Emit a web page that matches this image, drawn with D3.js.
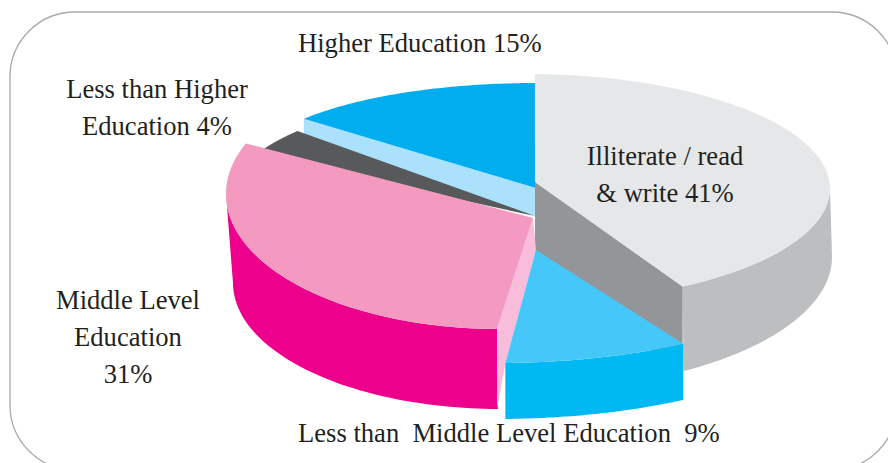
<!DOCTYPE html>
<html><head><meta charset="utf-8">
<script src="https://cdnjs.cloudflare.com/ajax/libs/d3/7.8.5/d3.min.js"></script>
<style>html,body{margin:0;padding:0;background:#fff;overflow:hidden}svg{display:block}
text{font-family:"Liberation Serif",serif;font-size:26.6px;fill:#231f20;white-space:pre}</style>
</head><body><svg id="c" width="888" height="463"></svg>
<script>
// Data, clockwise from the top of the pie
const categories = ["Illiterate / read & write","Less than Middle Level Education","Middle Level Education","Less than Higher Education","Higher Education"];
const shares = [41, 9, 31, 4, 15];
const labelLines = [
  ["Illiterate / read", "& write 41%"],
  ["Less than  Middle Level Education  9%"],
  ["Middle Level", "Education", "31%"],
  ["Less than Higher", "Education 4%"],
  ["Higher Education 15%"]
];
// Drawing layout: one ellipse per exploded slice, plus the ellipse of its lower rim
const sliceStart = [1.5, 146, 180.4, 292.6, 306];
const ellipse = [
  {cx:527, cy:188.4, rx:303, ry:114.4, ax:535, ay:182, depth:86, wallCx:527, wallCy:257, wallRx:305, wallRy:133, wallFrom:90,  wallTo:149.1},
  {cx:496, cy:251,   rx:335, ry:112,   ax:536, ay:250, depth:56, wallCx:496, wallCy:307, wallRx:335, wallRy:112, wallFrom:146, wallTo:178.4},
  {cx:499, cy:194,   rx:273, ry:135,   ax:533, ay:218, depth:80, wallCx:500, wallCy:283, wallRx:267, wallRy:126, wallFrom:180.4, wallTo:270},
  {cx:573, cy:199,   rx:345, ry:113,   ax:535, ay:216, depth:0},
  {cx:536, cy:170,   rx:287, ry:87,    ax:536, ay:188, depth:28}
];
const topColors  = ["#e6e7e8","#45c8f9","#f49ac1","#58595b","#00aeef"];
const wallColors = ["#bcbec0","#00b9f2","#ec008c","#58595b","#abe1fa"];
const faceColors = ["#939598","#00b9f2","#f9bcd9","#58595b","#abe1fa"];
const labelAnchors = [[665,165],[298,442],[128,309],[157,98],[298,52]];
const labelAlign = ["middle","start","middle","middle","start"];
const lineStep = 36.8;

const svg = d3.select("#c");
svg.append("rect").attr("x",10).attr("y",12).attr("width",887).attr("height",458)
  .attr("rx",65).attr("ry",65).attr("fill","#fff").attr("stroke","#a7a9ac").attr("stroke-width",1.3);

const pie = d3.pie().sort(null).value(d=>d).startAngle(0).endAngle(2*Math.PI);
const arcs = pie(shares);
const line = d3.line().curve(d3.curveLinear);

const deg = Math.PI/180;
function pts(a0, a1, cx, cy, rx, ry){
  const t = d3.scaleLinear().domain([0,60]).range([a0,a1]);
  return d3.range(61).map(k=>[cx+rx*Math.sin(t(k)), cy-ry*Math.cos(t(k))]);
}
const topArc = i => { const e=ellipse[i], a0=sliceStart[i]*deg;
  return pts(a0, a0+arcs[i].endAngle-arcs[i].startAngle, e.cx,e.cy,e.rx,e.ry); };
const apex = i => [ellipse[i].ax, ellipse[i].ay];
const down = (p,d) => [p[0],p[1]+d];
const draw = (p,c) => svg.append("path").attr("d",line(p)+"Z").attr("fill",c);

function drawTop(i){ draw([apex(i),...topArc(i)], topColors[i]); }
function drawWall(i){
  const e=ellipse[i], a0=e.wallFrom*deg, a1=e.wallTo*deg;
  const up = pts(a0,a1,e.cx,e.cy,e.rx,e.ry);
  const lo = pts(a0,a1,e.wallCx,e.wallCy,e.wallRx,e.wallRy);
  draw([...up,...lo.reverse()], wallColors[i]);
}

// Higher Education: cut face then top
{ const a = topArc(4)[0], d = ellipse[4].depth;
  draw([apex(4), a, down(a,d), down(apex(4),d)], faceColors[4]); drawTop(4); }
// Less than Higher Education
drawTop(3);
// Illiterate
drawWall(0);
{ const e = topArc(0)[60], d = ellipse[0].depth;
  draw([apex(0), e, down(e,d), down(apex(0),d)], faceColors[0]); drawTop(0); }
// Middle Level
drawWall(2);
{ const s = topArc(2)[0], d = ellipse[2].depth, b = topArc(1)[60];
  draw([apex(2), s, down(s,d), b, apex(1)], faceColors[2]); drawTop(2); }
// Less than Middle Level
drawWall(1); drawTop(1);

labelLines.forEach((ls,i)=>{
  ls.forEach((t,j)=>{
    svg.append("text").attr("x",labelAnchors[i][0]).attr("y",labelAnchors[i][1]+j*lineStep)
      .attr("text-anchor",labelAlign[i]).text(t);
  });
});
</script></body></html>
